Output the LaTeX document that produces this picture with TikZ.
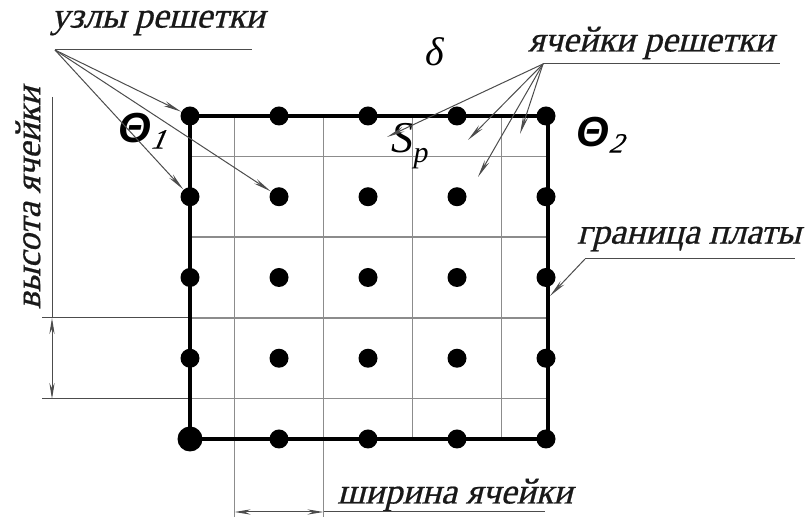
\documentclass[tikz,border=0pt]{standalone}
\usepackage{fontspec}
\setmainfont{Liberation Serif}[ItalicFont={Liberation Serif Italic}]
\newfontfamily\naklon{Liberation Serif}[FakeSlant=0.25, FakeBold=0.6]
\newfontfamily\thetafont{Liberation Sans}[ItalicFont={Liberation Sans Italic}, BoldItalicFont={Liberation Sans Bold Italic}]
\usetikzlibrary{arrows.meta}

\tikzset{
  uzel/.style={circle, fill=black, inner sep=0pt, minimum size=9.5pt},
  bigUzel/.style={uzel, minimum size=12.5pt},
  setka/.style={draw=black!45, line width=0.8pt},
  kontur/.style={line width=2pt},
  vynoska/.style={draw=black!70, line width=0.5pt},
  strelka/.style={vynoska, -{Stealth[length=9pt,width=2.6pt]}},
  razmer/.style={vynoska, {Stealth[length=8pt,width=2.6pt]}-{Stealth[length=8pt,width=2.6pt]}},
  podpis/.style={font=\naklon\fontsize{18}{22}\selectfont, text=black!90, inner sep=0pt},
  oboznach/.style={inner sep=0pt},
}

\begin{document}
\begin{tikzpicture}[x=0.5pt, y=-0.5pt]
    \useasboundingbox (0,0) rectangle (810,517);
    % Сетка ячеек
    \foreach \k in {0,...,3} {
        \draw[setka] ({234.5+89*\k},116) -- ({234.5+89*\k},439);
        \draw[setka] (190,{156.4+80.75*\k}) -- (548,{156.4+80.75*\k});
    }
    % Выносные линии для размеров
    \draw[setka] (234.5,439) -- (234.5,517);
    \draw[setka] (323.5,439) -- (323.5,517);
    \draw[vynoska] (42,318) -- (190,318);
    \draw[vynoska] (42,399) -- (190,399);
    \draw[vynoska] (52,97) -- (52,318);
    % Граница платы
    \draw[kontur] (190,116) rectangle (548,439);
    % Узлы решетки
    \foreach \i in {0,...,4} {
        \foreach \j in {0,...,4} {
            \node[uzel] (u-\i-\j) at ({190+89*\i},{116+80.75*\j}) {};
        }
    }
    \node[bigUzel] at (u-0-4) {};
    % Размеры ячейки
    \coordinate (h-a) at (52,318);
    \coordinate (h-b) at (52,399);
    \draw[razmer] (h-a) -- (h-b);
    \coordinate (w-a) at (234.5,512);
    \coordinate (w-b) at (323.5,512);
    \draw[razmer] (w-a) -- (w-b);
    % Подписи
    \node[podpis] (t-uzly) at (158,23) {узлы решетки};
    \node[podpis] (t-yach) at (651,43) {ячейки решетки};
    \node[podpis] (t-gran) at (689,239) {граница платы};
    \node[podpis] (t-shir) at (455,495) {ширина ячейки};
    \node[podpis, rotate=90] (t-vys) at (28,198) {высота ячейки};
    \node[oboznach] (theta1) at (142,131)
        {\thetafont\bfseries\itshape\fontsize{21}{24}\selectfont Θ\raisebox{-3pt}{\naklon\mdseries\fontsize{14}{14}\selectfont 1}};
    \node[oboznach] (theta2) at (600,135)
        {\thetafont\bfseries\itshape\fontsize{21}{24}\selectfont Θ\raisebox{-3pt}{\naklon\mdseries\fontsize{14}{14}\selectfont 2}};
    \node[oboznach] (delta) at (435,52) {\fontsize{20}{22}\selectfont\itshape δ};
    \node[oboznach] (sp) at (410,146)
        {\fontsize{22}{24}\selectfont\itshape S\raisebox{-5pt}{\fontsize{15}{15}\selectfont p}};
    % Выноски
    \coordinate (uzly-a) at (55,50);
    \coordinate (uzly-b) at (252,50);
    \draw[vynoska] (uzly-a) -- (uzly-b);
    \draw[strelka] (uzly-a) -- (u-0-0);
    \draw[strelka] (uzly-a) -- (u-0-1);
    \draw[strelka] (uzly-a) -- (u-1-1);
    \coordinate (yach-a) at (543,64);
    \coordinate (yach-b) at (780,64);
    \coordinate (yach-1) at (387,137);
    \coordinate (yach-2) at (468,140);
    \coordinate (yach-3) at (478,177);
    \coordinate (yach-4) at (520,134);
    \draw[vynoska] (yach-a) -- (yach-b);
    \foreach \c in {1,...,4}
        \draw[strelka] (yach-a) -- (yach-\c);
    \coordinate (gran-a) at (585,259);
    \coordinate (gran-b) at (795,259);
    \coordinate (gran-c) at (550,296);
    \draw[vynoska] (gran-a) -- (gran-b);
    \draw[strelka] (gran-a) -- (gran-c);
    \coordinate (shir-a) at (323.5,512);
    \coordinate (shir-b) at (545,512);
    \draw[vynoska] (shir-a) -- (shir-b);
\end{tikzpicture}
\end{document}
